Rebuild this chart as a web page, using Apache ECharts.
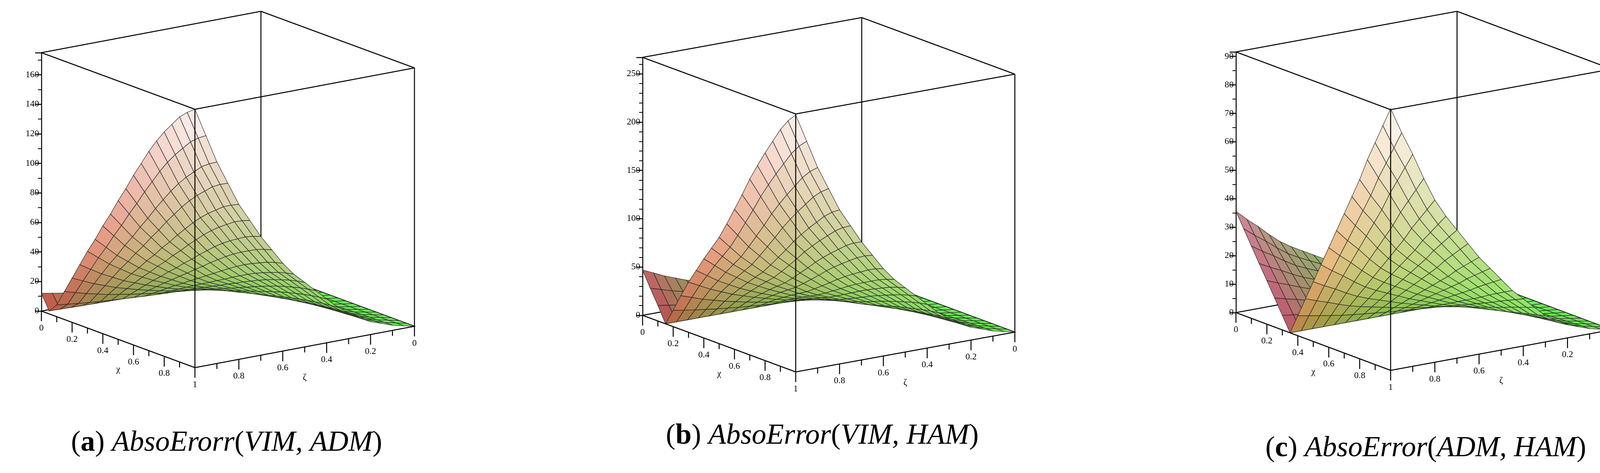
<!DOCTYPE html>
<html>
<head>
<meta charset="utf-8">
<script src="https://cdn.jsdelivr.net/npm/echarts@6/dist/echarts.min.js"></script>
<style>html,body{margin:0;padding:0;background:#fff}#main{width:4179px;height:1212px}</style>
</head>
<body>
<div id="main"></div>
<script>
// grid sample positions (x and zeta both 0..1, step 0.05)
const gridSteps = [0,0.05,0.1,0.15,0.2,0.25,0.3,0.35,0.4,0.45,0.5,0.55,0.6,0.65,0.7,0.75,0.8,0.85,0.9,0.95,1];
// signed error along the zeta = 1 edge, read per x step (abs is plotted)
const edgeA = [12,2,-8,-19,-30,-41,-52,-62,-73,-83,-94,-104,-115,-125,-135,-144,-152,-159,-166,-171,-175];
const edgeB = [47,31,16,0,-17,-35,-52,-67,-82,-96,-110,-127,-145,-163,-182,-199,-215,-230,-245,-257,-266];
const edgeC = [35.6,30.5,25.4,20.3,15.3,10.2,5.1,0,-7,-14,-21,-28,-35,-42,-49,-56,-63,-71,-78,-85,-92];
// relative height along zeta (0..1), read from the x = 1 edge
const zetaAB = [0,0.01,0.02,0.035,0.05,0.075,0.1,0.13,0.17,0.21,0.25,0.29,0.34,0.4,0.46,0.53,0.6,0.69,0.78,0.89,1];
const zetaC = [0,0.01,0.02,0.035,0.05,0.075,0.1,0.14,0.18,0.22,0.27,0.32,0.37,0.43,0.49,0.55,0.62,0.71,0.81,0.9,1];
const zMax = [175, 267, 91.6];
const zStep = [20, 50, 10];
const zMinor = [2, 5, 2];
const edgeTicks = ['0','0.2','0.4','0.6','0.8','1'];
const captions = [['a','AbsoErorr','VIM, ADM'],['b','AbsoError','VIM, HAM'],['c','AbsoError','ADM, HAM']];

// screen layout of each box (pixels)
const boxes = [
  {left:[106,797], front:[499,942], right:[1061,836], top:135, warm:[245,85,85], flap:[240,70,80], cap:[580,1136]},
  {left:[1645,808], front:[2037,953], right:[2598,851], top:147, warm:[248,100,85], flap:[225,60,95], cap:[2105,1118]},
  {left:[3164,801], front:[3560,949], right:[4126,845], top:133, warm:[252,145,85], flap:[230,65,125], cap:[3650,1150]}
];
const edges = [edgeA, edgeB, edgeC];
const zetaProf = [zetaAB, zetaAB, zetaC];

const chart = echarts.init(document.getElementById('main'), null, {renderer:'canvas'});
const grids = [], xAxes = [], yAxes = [], series = [], graphics = [];
const FONT = '"Liberation Serif", "DejaVu Serif", serif';

boxes.forEach((b, p) => {
  const W = b.right[0] - b.left[0];
  const Hz = b.left[1] - b.top;
  const k = Hz / zMax[p];
  const ex = [b.front[0]-b.left[0], b.front[1]-b.left[1]];
  const ez = [b.right[0]-b.front[0], b.right[1]-b.front[1]];
  // x in 0..1, zeta in 0..1, z value -> axis coords
  const proj = (x, zeta, z) => {
    const s = 1 - zeta;
    return [x*ex[0] + s*ez[0], z - (x*ex[1] + s*ez[1]) / k];
  };
  grids.push({left:b.left[0], top:b.top, width:W, height:Hz});
  xAxes.push({type:'value', gridIndex:p, min:0, max:W, show:false});
  yAxes.push({type:'value', gridIndex:p, min:0, max:zMax[p], interval:zStep[p],
    axisLine:{show:true, lineStyle:{color:'#000', width:2.5}},
    axisTick:{show:true, length:16, lineStyle:{color:'#000', width:2.5}},
    minorTick:{show:true, splitNumber:zMinor[p], length:9, lineStyle:{color:'#000', width:2}},
    splitLine:{show:false},
    axisLabel:{show:true, showMaxLabel:false, fontFamily:FONT, fontSize:23, color:'#000', margin:6}
  });

  const zv = (i, j) => Math.abs(edges[p][i] * zetaProf[p][j]);
  const cells = [];
  const n = gridSteps.length - 1;
  for (let i = 0; i < n; i++) for (let j = 0; j < n; j++) cells.push([i, j, i + j]);
  cells.sort((a, c) => a[2] - c[2]);

  const colorOf = (i, j) => {
    const z = (zv(i,j)+zv(i+1,j)+zv(i,j+1)+zv(i+1,j+1)) / 4;
    const s = 1 - (gridSteps[j] + gridSteps[j+1]) / 2;
    const isFlap = edges[p][i] + edges[p][i+1] > 0;
    const warm = isFlap ? b.flap : b.warm;
    const green = [105, 245, 85];
    const m = Math.min(1, Math.pow(s, 0.45));
    let c = warm.map((v, q) => v + (green[q]-v)*m);
    const h = z / zMax[p];
    const t = Math.pow(h, 1.15) * 0.93;
    const dark = isFlap ? 0.9 : 0.8 + 0.2 * Math.min(1, h * 3 + s * 0.9);
    c = c.map(v => Math.round((v*dark) + (255 - v*dark) * t));
    return 'rgb(' + c.join(',') + ')';
  };

  // box frame helpers
  const C = (x, zeta, z) => proj(x, zeta, z);
  const boxLine = (api, a, c) => {
    const p1 = api.coord(a), p2 = api.coord(c);
    return {type:'line', shape:{x1:p1[0], y1:p1[1], x2:p2[0], y2:p2[1]}, style:{stroke:'#000', lineWidth:2.5}};
  };
  const zt = zMax[p];

  // back edges (hidden behind surface)
  series.push({type:'custom', xAxisIndex:p, yAxisIndex:p, clip:false, silent:true, data:[0],
    renderItem:(params, api) => ({type:'group', children:[
      boxLine(api, C(0,1,0), C(0,0,0)),
      boxLine(api, C(0,0,0), C(1,0,0)),
      boxLine(api, C(0,0,0), C(0,0,zt))
    ]})
  });

  // surface
  series.push({type:'custom', xAxisIndex:p, yAxisIndex:p, clip:false, silent:true,
    data: cells,
    renderItem:(params, api) => {
      const i = api.value(0), j = api.value(1);
      const pts = [[i,j],[i+1,j],[i+1,j+1],[i,j+1]].map(([a, c]) =>
        api.coord(proj(gridSteps[a], gridSteps[c], zv(a, c))));
      return {type:'polygon', shape:{points:pts},
        style:{fill:colorOf(i, j), stroke:'rgba(35,35,35,0.75)', lineWidth:1.6}};
    }
  });

  // front/top edges, ticks and labels
  series.push({type:'custom', xAxisIndex:p, yAxisIndex:p, clip:false, silent:true, data:[0],
    renderItem:(params, api) => {
      const ch = [
        boxLine(api, C(0,1,0), C(1,1,0)),
        boxLine(api, C(1,1,0), C(1,0,0)),
        boxLine(api, C(1,1,0), C(1,1,zt)),
        boxLine(api, C(1,0,0), C(1,0,zt)),
        boxLine(api, C(0,1,zt), C(1,1,zt)),
        boxLine(api, C(1,1,zt), C(1,0,zt)),
        boxLine(api, C(1,0,zt), C(0,0,zt)),
        boxLine(api, C(0,0,zt), C(0,1,zt))
      ];
      for (let t = 0; t <= 10; t++) {
        const v = t / 10, len = t % 2 === 0 ? 26 : 14;
        const a = api.coord(C(v, 1, 0));
        ch.push({type:'line', shape:{x1:a[0], y1:a[1], x2:a[0], y2:a[1]+len}, style:{stroke:'#000', lineWidth:2.5}});
        const c = api.coord(C(1, v, 0));
        if (t < 10) ch.push({type:'line', shape:{x1:c[0], y1:c[1], x2:c[0], y2:c[1]+len}, style:{stroke:'#000', lineWidth:2.5}});
      }
      edgeTicks.forEach((lab, q) => {
        const v = q / 5;
        const a = api.coord(C(v, 1, 0));
        ch.push({type:'text', x:a[0], y:a[1]+32, style:{text:lab, font:'23px ' + FONT, fill:'#000', align:'center', verticalAlign:'top'}});
        if (q < 5) {
          const c = api.coord(C(1, v, 0));
          ch.push({type:'text', x:c[0], y:c[1]+32, style:{text:lab, font:'23px ' + FONT, fill:'#000', align:'center', verticalAlign:'top'}});
        }
      });
      const lx = api.coord(C(0.5, 1, 0));
      ch.push({type:'text', x:lx[0], y:lx[1]+66, style:{text:'χ', font:'23px ' + FONT, fill:'#000', align:'center', verticalAlign:'top'}});
      const lz = api.coord(C(1, 0.5, 0));
      ch.push({type:'text', x:lz[0], y:lz[1]+66, style:{text:'ζ', font:'23px ' + FONT, fill:'#000', align:'center', verticalAlign:'top'}});
      return {type:'group', children:ch};
    }
  });

  const cap = captions[p];
  graphics.push({type:'text', x:b.cap[0], y:b.cap[1],
    style:{text:'{n|(}{b|' + cap[0] + '}{n|) }{i|' + cap[1] + '}{n|(}{i|' + cap[2] + '}{n|)}',
      align:'center', verticalAlign:'middle',
      rich:{
        n:{font:'74px ' + FONT, fill:'#000'},
        b:{font:'bold 74px ' + FONT, fill:'#000'},
        i:{font:'italic 74px ' + FONT, fill:'#000'}
      }}});
});

chart.setOption({
  animation:false,
  grid:grids, xAxis:xAxes, yAxis:yAxes, series:series, graphic:graphics
});
</script>
</body>
</html>
